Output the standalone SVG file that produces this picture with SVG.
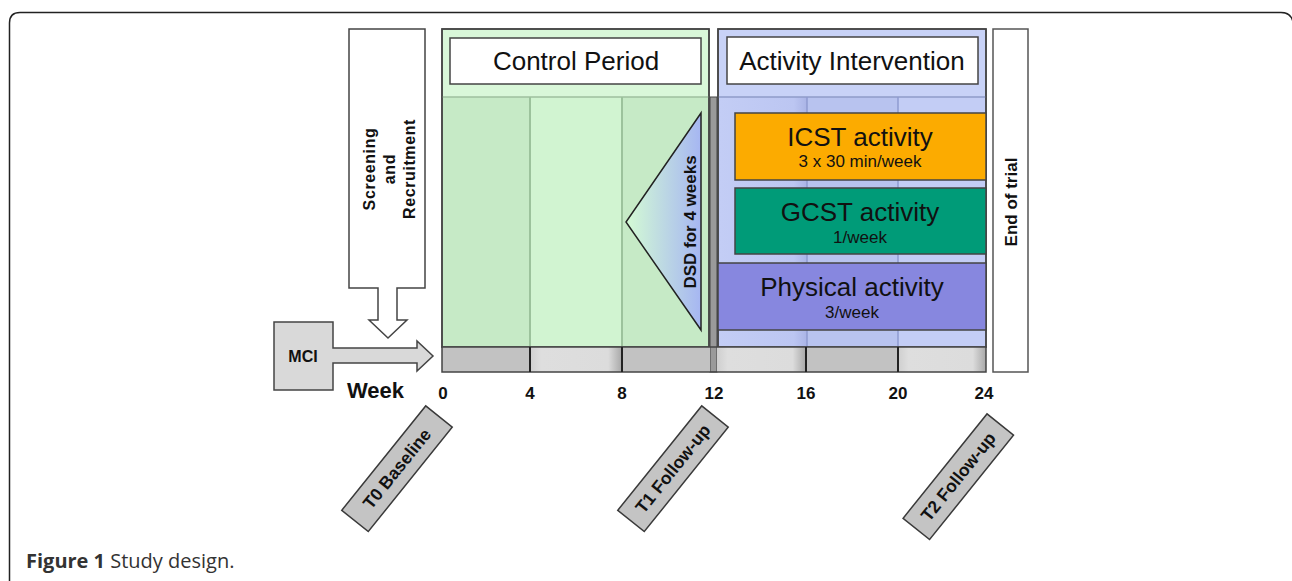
<svg xmlns="http://www.w3.org/2000/svg" width="1292" height="581" viewBox="0 0 1292 581">
<defs>
<style>
.t{font-family:"Liberation Sans",Arial,sans-serif;fill:#111}
.b{font-weight:bold}
.edge{stroke:#444;stroke-width:1.5}
.lab{fill:#c4c4c4;stroke:#3a3a3a;stroke-width:1.5}
.cap{font-family:"Open Sans","Noto Sans",sans-serif;fill:#333;font-size:20px}
</style>
<linearGradient id="dsd" x1="0" y1="0" x2="1" y2="0">
<stop offset="0" stop-color="#d4fbd4"/>
<stop offset="1" stop-color="#a6b6f2"/>
</linearGradient>
<linearGradient id="lseg" x1="0" y1="0" x2="1" y2="0">
<stop offset="0" stop-color="#cfcfcf"/>
<stop offset="0.12" stop-color="#dedede"/>
<stop offset="0.85" stop-color="#dcdcdc"/>
<stop offset="1" stop-color="#a8a8a8"/>
</linearGradient>
<linearGradient id="bcol" x1="0" y1="0" x2="1" y2="0">
<stop offset="0" stop-color="#c3cdf5"/>
<stop offset="0.85" stop-color="#bcc6f2"/>
<stop offset="1" stop-color="#aab4e6"/>
</linearGradient>
</defs>
<rect width="1292" height="581" fill="#fff"/>
<path d="M9.5,590 V23 Q9.5,12.5 20,12.5 H1281 Q1291,12.5 1293,22" fill="none" stroke="#222" stroke-width="1.5"/>
<text class="cap" x="26" y="568"><tspan font-weight="bold">Figure 1</tspan> Study design.</text>

<g id="control-period">
<rect x="442" y="29" width="267" height="318" fill="#d9f7d9" class="edge"/>
<rect x="443" y="97" width="87" height="250" fill="#c6eac6"/>
<rect x="530" y="97" width="92" height="250" fill="#d1f4d1"/>
<rect x="622" y="97" width="86" height="250" fill="#c6eac6"/>
<line x1="442" y1="97" x2="709" y2="97" stroke="#9ebf9e" stroke-width="1.5"/>
<line x1="530" y1="97" x2="530" y2="347" stroke="#9cc29c" stroke-width="2"/>
<line x1="622" y1="97" x2="622" y2="347" stroke="#9cc29c" stroke-width="2"/>
<rect x="442" y="29" width="267" height="318" fill="none" class="edge"/>
<rect x="450" y="38" width="251" height="46" fill="#fff" class="edge"/>
<text class="t" x="576" y="70" font-size="26" text-anchor="middle">Control Period</text>
</g>

<g id="activity-intervention">
<rect x="718" y="29" width="268" height="318" fill="#c8d2f7" class="edge"/>
<rect x="719" y="97" width="88" height="250" fill="url(#bcol)"/>
<rect x="807" y="97" width="91" height="250" fill="#b8c3ef"/>
<rect x="898" y="97" width="87" height="250" fill="#c3cdf5"/>
<line x1="718" y1="97" x2="986" y2="97" stroke="#8f9bc8" stroke-width="1.5"/>
<line x1="807" y1="97" x2="807" y2="347" stroke="#8f9bd0" stroke-width="1.5"/>
<line x1="898" y1="97" x2="898" y2="347" stroke="#8f9bd0" stroke-width="1.5"/>
<rect x="718" y="29" width="268" height="318" fill="none" class="edge"/>
<rect x="727" y="37" width="251" height="47" fill="#fff" class="edge"/>
<text class="t" x="852" y="70" font-size="26" text-anchor="middle">Activity Intervention</text>
</g>

<g id="separator-12">
<rect x="710" y="97" width="7" height="275" fill="#9a9a9a" stroke="#444" stroke-width="1"/>
</g>

<g id="icst">
<rect x="735" y="113" width="251" height="67" fill="#fcab00" class="edge"/>
<text class="t" x="860" y="146" font-size="26" text-anchor="middle">ICST activity</text>
<text class="t" x="860" y="167" font-size="17" text-anchor="middle" fill="#333">3 x 30 min/week</text>
</g>

<g id="gcst">
<rect x="735" y="188" width="251" height="66" fill="#009b78" class="edge"/>
<text class="t" x="860" y="221" font-size="26" text-anchor="middle">GCST activity</text>
<text class="t" x="860" y="243" font-size="17" text-anchor="middle" fill="#1a3a30">1/week</text>
</g>

<g id="physical">
<rect x="718" y="263" width="268" height="67" fill="#8787df" class="edge"/>
<text class="t" x="852" y="296" font-size="26" text-anchor="middle">Physical activity</text>
<text class="t" x="852" y="318" font-size="17" text-anchor="middle" fill="#2a2a55">3/week</text>
</g>

<g id="dsd">
<polygon points="701,113 626,222 701,330" fill="url(#dsd)" stroke="#222" stroke-width="1.5"/>
<text class="t b" transform="translate(696,222) rotate(-90)" font-size="17" text-anchor="middle">DSD for 4 weeks</text>
</g>

<g id="timeline">
<rect x="442" y="347" width="88" height="25" fill="#c2c2c2"/>
<rect x="530" y="347" width="92" height="25" fill="url(#lseg)"/>
<rect x="622" y="347" width="88" height="25" fill="#c2c2c2"/>
<rect x="717" y="347" width="89" height="25" fill="url(#lseg)"/>
<rect x="806" y="347" width="92" height="25" fill="#c2c2c2"/>
<rect x="898" y="347" width="88" height="25" fill="url(#lseg)"/>
<rect x="442" y="347" width="544" height="25" fill="none" class="edge"/>
<g stroke="#222" stroke-width="2">
<line x1="530" y1="347" x2="530" y2="372"/>
<line x1="622" y1="347" x2="622" y2="372"/>
<line x1="806" y1="347" x2="806" y2="372"/>
<line x1="898" y1="347" x2="898" y2="372"/>
</g>
<g class="t b" font-size="17" text-anchor="middle">
<text x="443" y="399">0</text>
<text x="530" y="399">4</text>
<text x="622" y="399">8</text>
<text x="714" y="399">12</text>
<text x="806" y="399">16</text>
<text x="898" y="399">20</text>
<text x="984" y="399">24</text>
</g>
<text class="t b" x="347" y="398" font-size="22">Week</text>
</g>

<g id="end-of-trial">
<rect x="993" y="29" width="35" height="343" fill="#fff" stroke="#555" stroke-width="1.5"/>
<text class="t b" transform="translate(1017,202) rotate(-90)" font-size="17" text-anchor="middle">End of trial</text>
</g>

<g id="screening">
<path d="M349,29 H425 V288 H397 V320 H407 L388,338 L369,320 H378 V288 H349 Z" fill="#fff" stroke="#444" stroke-width="1.5"/>
<g class="t b" font-size="16" letter-spacing="0.6" text-anchor="middle">
<text transform="translate(375,169) rotate(-90)">Screening</text>
<text transform="translate(395,169) rotate(-90)">and</text>
<text transform="translate(415,169) rotate(-90)">Recruitment</text>
</g>
</g>

<g id="mci">
<path d="M274,322 H333 V348 H417 V341 L433,356 L417,371 V363 H333 V390 H274 Z" fill="#d9d9d9" stroke="#444" stroke-width="1.5"/>
<text class="t b" x="303" y="362" font-size="16" text-anchor="middle">MCI</text>
</g>

<g id="t0">
<g transform="translate(397,468.7) rotate(-51.2)">
<rect x="-67" y="-17" width="134" height="34" class="lab"/>
<text class="t b" x="0" y="6" font-size="17.5" text-anchor="middle">T0 Baseline</text>
</g>
</g>
<g id="t1">
<g transform="translate(673,468.7) rotate(-51.2)">
<rect x="-67" y="-17" width="134" height="34" class="lab"/>
<text class="t b" x="0" y="6" font-size="17.5" text-anchor="middle">T1 Follow-up</text>
</g>
</g>
<g id="t2">
<g transform="translate(958.3,476.7) rotate(-51.2)">
<rect x="-67" y="-17" width="134" height="34" class="lab"/>
<text class="t b" x="0" y="6" font-size="17.5" text-anchor="middle">T2 Follow-up</text>
</g>
</g>
</svg>
